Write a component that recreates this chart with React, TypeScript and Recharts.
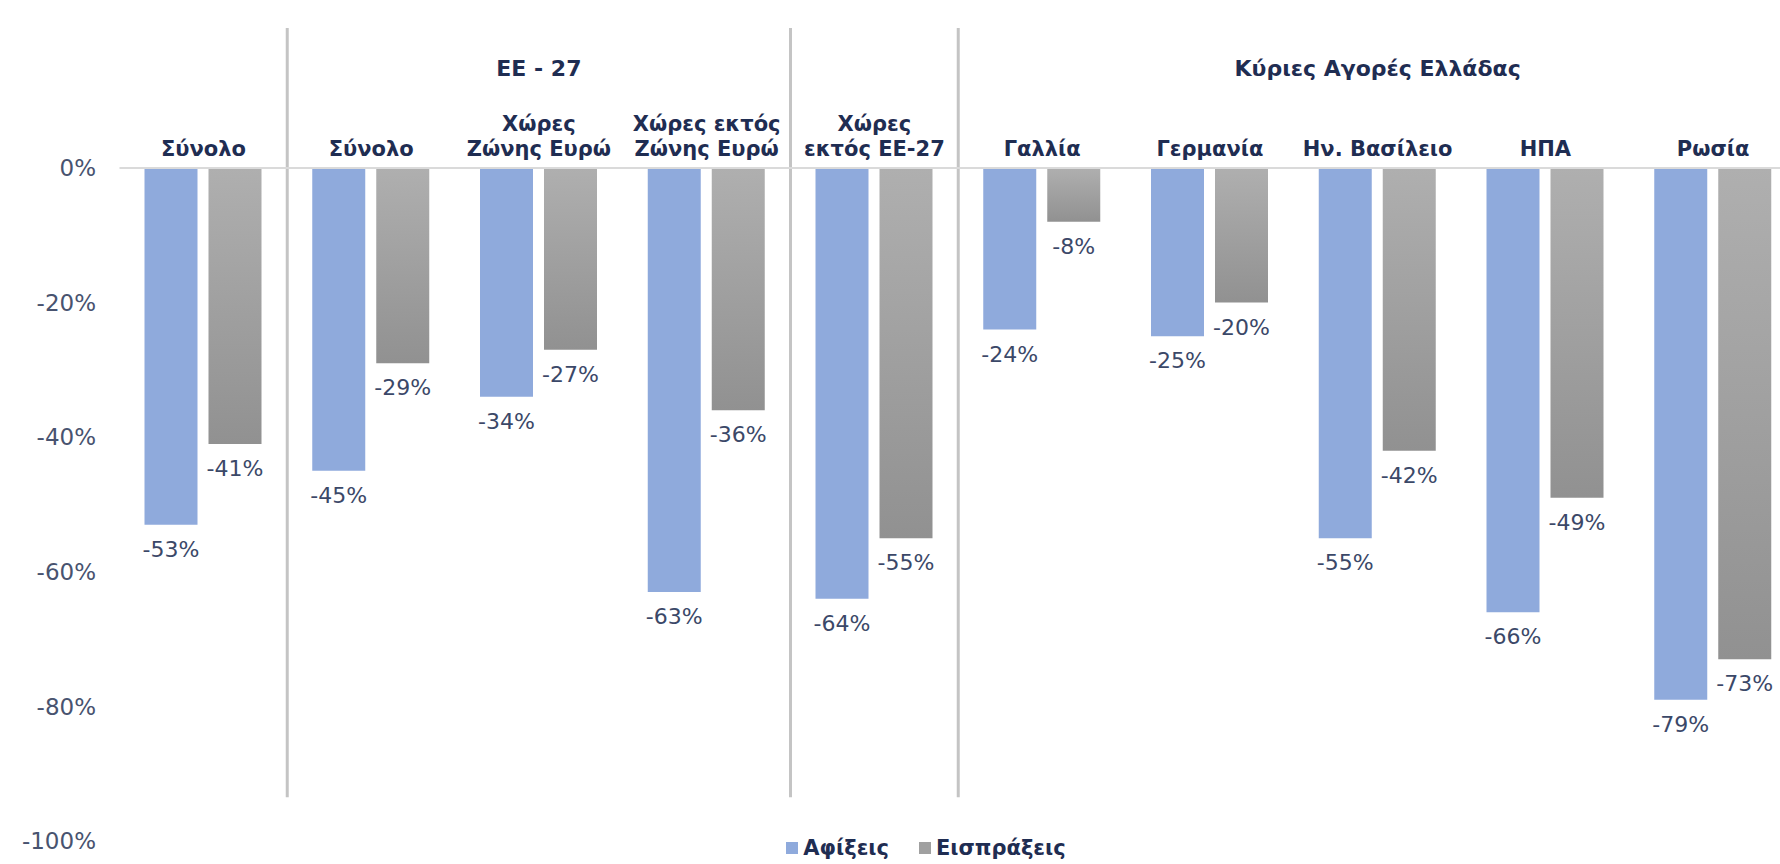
import { BarChart, Bar, XAxis, YAxis, LabelList, Legend, ReferenceLine, ReferenceArea } from 'recharts';

const categories = [
  'Σύνολο',
  'Σύνολο',
  'Χώρες\nΖώνης Ευρώ',
  'Χώρες εκτός\nΖώνης Ευρώ',
  'Χώρες\nεκτός ΕΕ-27',
  'Γαλλία',
  'Γερμανία',
  'Ην. Βασίλειο',
  'ΗΠΑ',
  'Ρωσία',
];
const arrivals = [-53, -45, -34, -63, -64, -24, -25, -55, -66, -79];
const receipts = [-41, -29, -27, -36, -55, -8, -20, -42, -49, -73];
const yTicks = [0, -20, -40, -60, -80, -100];
const groups = [
  { label: 'ΕΕ - 27', from: 1, to: 3 },
  { label: 'Κύριες Αγορές Ελλάδας', from: 5, to: 9 },
];
const separators = [1, 4, 5];

const data = categories.map((name, i) => ({
  id: i,
  name,
  arrivals: arrivals[i],
  receipts: receipts[i],
}));

const FONT = '"DejaVu Sans", Verdana, sans-serif';
const NAVY = '#1f2d52';
const LABEL = '#3b4868';
const BLUE = '#8faadc';

function CategoryTick(props: any) {
  const { x, y, payload } = props;
  const lines = categories[payload.value].split('\n');
  const n = lines.length;
  return (
    <g>
      {lines.map((line, i) => (
        <text
          key={i}
          x={x}
          y={y - 4 - (n - 1 - i) * 25}
          textAnchor="middle"
          fontFamily={FONT}
          fontWeight="bold"
          fontSize={21}
          fill={NAVY}
        >
          {line}
        </text>
      ))}
    </g>
  );
}

function valueLabel(props: any) {
  const vb = props.viewBox ?? props;
  const x = vb.x ?? props.x;
  const y = vb.y ?? props.y;
  const width = vb.width ?? props.width;
  const height = vb.height ?? props.height;
  const bottom = Math.max(y, y + height);
  return (
    <text
      x={x + width / 2}
      y={bottom + 32}
      textAnchor="middle"
      fontFamily={FONT}
      fontSize={22}
      fill={LABEL}
    >
      {`${props.value}%`}
    </text>
  );
}

function groupLabel(text: string) {
  return (props: any) => {
    const vb = props.viewBox;
    return (
      <text
        x={vb.x + vb.width / 2}
        y={vb.y + vb.height / 2 + 8}
        textAnchor="middle"
        fontFamily={FONT}
        fontWeight="bold"
        fontSize={22}
        fill={NAVY}
      >
        {text}
      </text>
    );
  };
}

const legendItems = [
  { name: 'Αφίξεις', color: BLUE },
  { name: 'Εισπράξεις', color: '#a0a0a0' },
];

function renderLegend() {
  return (
    <div
      style={{
        display: 'flex',
        justifyContent: 'center',
        gap: 30,
        fontFamily: FONT,
        fontWeight: 'bold',
        fontSize: 21,
        color: NAVY,
      }}
    >
      {legendItems.map((item) => (
        <span key={item.name} style={{ display: 'flex', alignItems: 'center' }}>
          <span
            style={{
              display: 'inline-block',
              width: 12,
              height: 12,
              background: item.color,
              marginRight: 5,
            }}
          />
          {item.name}
        </span>
      ))}
    </div>
  );
}

export default function App() {
  return (
    <div
      style={{
        position: 'fixed',
        top: 0,
        left: 0,
        width: 1780,
        height: 864,
        overflow: 'hidden',
        background: '#fff',
      }}
    >
      <BarChart
        width={1800}
        height={864}
        data={data}
        margin={{ top: 128, right: 3, left: 0, bottom: 23 }}
        barSize={53}
        barGap={11}
      >
        <defs>
          <linearGradient id="grayGrad" x1="0" y1="0" x2="0" y2="1">
            <stop offset="0%" stopColor="#afafaf" />
            <stop offset="100%" stopColor="#919191" />
          </linearGradient>
        </defs>
        <XAxis
          dataKey="id"
          type="category"
          orientation="top"
          height={40}
          axisLine={{ stroke: '#dadada', strokeWidth: 2 }}
          tickLine={false}
          tick={<CategoryTick />}
          interval={0}
        />
        <YAxis
          type="number"
          domain={[-100, 0]}
          ticks={yTicks}
          width={119.5}
          axisLine={false}
          tickLine={false}
          tickMargin={17.5}
          tickFormatter={(v) => `${v}%`}
          tick={{ fill: '#48536f', fontSize: 23, fontFamily: FONT }}
        />
        {separators.map((c) => (
          <ReferenceLine
            key={c}
            segment={[
              { x: c, y: 20.8 },
              { x: c, y: -93.5 },
            ]}
            position="start"
            stroke="#c4c4c4"
            strokeWidth={3}
            ifOverflow="visible"
          />
        ))}
        {groups.map((g) => (
          <ReferenceArea
            key={g.label}
            x1={g.from}
            x2={g.to}
            y1={0}
            y2={29.7}
            fill="none"
            stroke="none"
            ifOverflow="visible"
            label={groupLabel(g.label)}
          />
        ))}
        <Bar dataKey="arrivals" name="Αφίξεις" fill={BLUE} isAnimationActive={false}>
          <LabelList dataKey="arrivals" content={valueLabel} />
        </Bar>
        <Bar dataKey="receipts" name="Εισπράξεις" fill="url(#grayGrad)" isAnimationActive={false}>
          <LabelList dataKey="receipts" content={valueLabel} />
        </Bar>
        <Legend
          layout="horizontal"
          verticalAlign="middle"
          align="center"
          content={renderLegend}
          wrapperStyle={{ position: 'absolute', left: 726, top: 836, width: 400 }}
        />
      </BarChart>
    </div>
  );
}
